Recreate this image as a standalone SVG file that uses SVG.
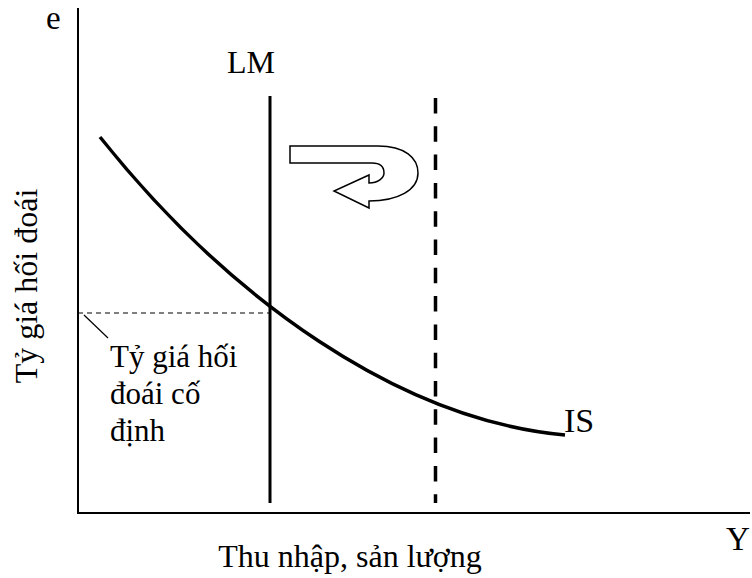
<svg xmlns="http://www.w3.org/2000/svg" width="752" height="578" viewBox="0 0 752 578">
<style>
text{font-family:"Liberation Serif","Times New Roman",serif;fill:#000}
.ax{stroke:#000;stroke-width:2;fill:none}
.lbl{font-size:31px}
</style>
<rect width="752" height="578" fill="#fff"/>
<g id="axes">
<line class="ax" x1="78" y1="8" x2="78" y2="514"/>
<line class="ax" x1="77" y1="513" x2="750" y2="513"/>
<text x="46" y="29" font-size="33">e</text>
<text x="726" y="550" font-size="33">Y</text>
<text x="350" y="567" font-size="32" text-anchor="middle">Thu nhập, sản lượng</text>
<text transform="translate(37,286) rotate(-90)" font-size="32" text-anchor="middle">Tỷ giá hối đoái</text>
</g>
<g id="connectors">
<line x1="78" y1="313" x2="270" y2="313" stroke="#000" stroke-width="1.2" stroke-dasharray="5,4"/>
<line x1="84" y1="315" x2="108" y2="338" stroke="#000" stroke-width="1.2"/>
</g>
<g id="LM">
<line x1="270" y1="96" x2="270" y2="503" stroke="#000" stroke-width="3"/>
<text x="227" y="73" font-size="32">LM</text>
</g>
<g id="LM2">
<line x1="435.5" y1="98" x2="435.5" y2="503" stroke="#000" stroke-width="3.5" stroke-dasharray="15.5,12.8"/>
</g>
<g id="IS">
<path d="M100,137 C230,300 400,420 565,435" fill="none" stroke="#000" stroke-width="3.5"/>
<text x="564" y="432" font-size="34">IS</text>
</g>
<g id="arrow">
<path d="M290,146 L378,146 C405,146 418,158 418,173 C418,190 398,201 369,201 L369,208 L334,191 L369,175 L369,183 C378,183 384,178 384,173 C384,167 380,163 372,163 L290,163 Z" fill="#fff" stroke="#000" stroke-width="1.5"/>
</g>
<g id="label">
<text class="lbl" x="110" y="367">Tỷ giá hối</text>
<text class="lbl" x="110" y="404">đoái cố</text>
<text class="lbl" x="110" y="441">định</text>
</g>
</svg>
